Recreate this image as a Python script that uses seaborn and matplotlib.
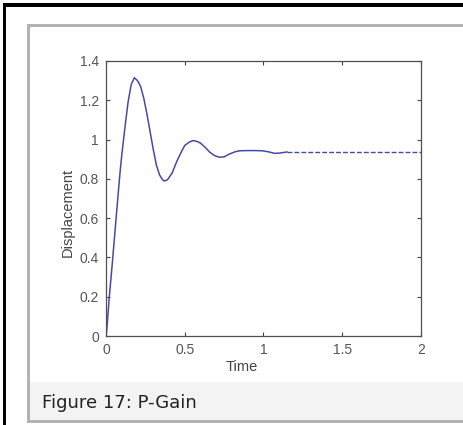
import matplotlib
matplotlib.use("Agg")
import matplotlib.pyplot as plt
from matplotlib.patches import Rectangle
import numpy as np
import pandas as pd
import seaborn as sns

# ---- data ----
time_solid = [0.00, 0.005, 0.02, 0.04, 0.06, 0.08, 0.09, 0.10, 0.11, 0.12,
              0.14, 0.16, 0.18, 0.20, 0.22, 0.24, 0.26, 0.28, 0.30, 0.32, 0.34,
              0.36, 0.37, 0.39, 0.42, 0.45, 0.48, 0.50, 0.53, 0.555, 0.58, 0.60,
              0.63, 0.66, 0.69, 0.72, 0.75, 0.78, 0.82, 0.85, 0.90, 0.95, 0.99,
              1.03, 1.07, 1.10, 1.15]
disp_solid = [0.00, 0.03, 0.19, 0.37, 0.56, 0.75, 0.84, 0.92, 0.99, 1.06,
              1.19, 1.28, 1.315, 1.30, 1.27, 1.21, 1.13, 1.04, 0.95, 0.87, 0.82,
              0.795, 0.789, 0.795, 0.83, 0.89, 0.94, 0.97, 0.988, 0.995, 0.99, 0.982,
              0.96, 0.935, 0.918, 0.91, 0.912, 0.925, 0.938, 0.943, 0.944, 0.944, 0.943,
              0.938, 0.930, 0.931, 0.937]
time_dashed = [1.15, 1.40, 1.70, 2.00]
disp_dashed = [0.937, 0.937, 0.937, 0.937]

x_ticks = [0, 0.5, 1, 1.5, 2]
x_ticklabels = ["0", "0.5", "1", "1.5", "2"]
y_ticks = [0, 0.2, 0.4, 0.6, 0.8, 1.0, 1.2, 1.4]
y_ticklabels = ["0", "0.2", "0.4", "0.6", "0.8", "1", "1.2", "1.4"]
x_label = "Time"
y_label = "Displacement"
caption = "Figure 17: P-Gain"

sns.set_theme(style="white")
plt.rcParams["font.family"] = ["Liberation Sans", "DejaVu Sans"]

W, H = 464, 425
fig = plt.figure(figsize=(W / 100, H / 100), dpi=100)
fig.patch.set_facecolor("white")


def px_rect(x0, y0, x1, y1, color):
    fig.add_artist(Rectangle((x0 / W, 1 - y1 / H), (x1 - x0) / W, (y1 - y0) / H,
                             transform=fig.transFigure, facecolor=color,
                             edgecolor="none", zorder=0))


# page decorations
px_rect(3, 3, 6.5, H, "black")
px_rect(3, 3, W, 6.5, "black")
px_rect(30.5, 382, W, 420, "#f3f3f3")
px_rect(27.5, 24, 30.5, 423, "#b3b3b3")
px_rect(27.5, 24, W, 27, "#b3b3b3")
px_rect(27.5, 420, W, 423, "#b3b3b3")

fig.text(42 / W, 1 - 408 / H, caption, fontsize=13, family="DejaVu Sans",
         color="#222222", va="baseline", ha="left")

ax = fig.add_axes([106 / W, 1 - 336 / H, 315 / W, 275 / H])
ax.set_facecolor("white")

df_solid = pd.DataFrame({"Time": time_solid, "Displacement": disp_solid})
df_dash = pd.DataFrame({"Time": time_dashed, "Displacement": disp_dashed})
sns.lineplot(data=df_solid, x="Time", y="Displacement", ax=ax, color="#4848aa",
             linewidth=1.1, estimator=None, sort=False)
sns.lineplot(data=df_dash, x="Time", y="Displacement", ax=ax, color="#4848aa",
             linewidth=1.0, estimator=None, sort=False, dashes=False,
             linestyle=(0, (3.5, 1.5)))

ax.set_xlim(0, 2)
ax.set_ylim(0, 1.4)
ax.set_xticks(x_ticks)
ax.set_xticklabels(x_ticklabels)
ax.set_yticks(y_ticks)
ax.set_yticklabels(y_ticklabels)

for s in ax.spines.values():
    s.set_color("#505050")
    s.set_linewidth(0.9)
    s.set_visible(True)

ax.tick_params(direction="in", length=3, width=0.8, color="#404040",
               top=True, right=True, bottom=True, left=True,
               labelsize=10, labelcolor="#555555", pad=5)

ax.set_xlabel(x_label, fontsize=10.5, color="#444444")
ax.set_ylabel(y_label, fontsize=10.5, color="#444444")
ax.xaxis.set_label_coords((242 - 106) / 315, (336 - 360) / 275)
ax.yaxis.set_label_coords((75 - 106) / 315, (336 - 212.5) / 275)

fig.savefig("out.png", dpi=100)
